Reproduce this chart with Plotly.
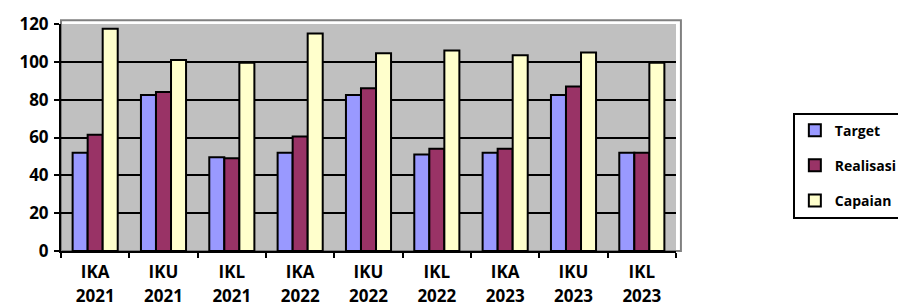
import plotly.graph_objects as go

indicators = ["IKA", "IKU", "IKL", "IKA", "IKU", "IKL", "IKA", "IKU", "IKL"]
years = ["2021", "2021", "2021", "2022", "2022", "2022", "2023", "2023", "2023"]
target = [52, 82.5, 49.5, 52, 82.5, 51, 52, 82.5, 52]
realisasi = [61.5, 84, 49, 60.5, 86, 54, 54, 87, 52]
capaian = [117.5, 101, 99.5, 115, 104.5, 106, 103.5, 105, 99.5]
y_ticks = [0, 20, 40, 60, 80, 100, 120]

series = [("Target", target, "#9999FF"),
          ("Realisasi", realisasi, "#993366"),
          ("Capaian", capaian, "#FFFFCC")]

pos = list(range(len(indicators)))
FONT = "Open Sans"

fig = go.Figure()
for name, vals, col in series:
    fig.add_trace(go.Bar(x=pos, y=vals, name=name, legendgroup=name,
                         marker=dict(color=col, line=dict(color="black", width=2))))

# invisible trace on second x axis for the year row of labels
fig.add_trace(go.Scatter(x=pos, y=[0] * len(pos), xaxis="x2", mode="markers",
                         marker=dict(opacity=0), showlegend=False, hoverinfo="skip"))

axis_font = dict(family=FONT, size=17, color="black", weight="bold")
fig.update_layout(
    width=906, height=308,
    margin=dict(l=53, r=238, t=16, b=65, autoexpand=False),
    paper_bgcolor="white", plot_bgcolor="#C0C0C0",
    barmode="group", bargap=0.34, bargroupgap=0,
    font=dict(family=FONT, color="black"),
    xaxis=dict(range=[-0.5, len(pos) - 0.5], tickvals=pos, ticktext=indicators,
               ticks="", showgrid=False, zeroline=False, automargin=False,
               showline=True, linecolor="black", linewidth=2,
               tickfont=axis_font, ticklabelstandoff=5,
               minor=dict(tickvals=[p - 0.5 for p in pos] + [pos[-1] + 0.5],
                          ticks="outside", ticklen=5, tickcolor="black", tickwidth=2)),
    xaxis2=dict(overlaying="x", matches="x", side="bottom", anchor="y",
                tickvals=pos, ticktext=years, ticks="", showgrid=False, automargin=False,
                zeroline=False, showline=False, tickfont=axis_font,
                ticklabelstandoff=33),
    yaxis=dict(range=[0, 120], tickvals=y_ticks, ticks="outside", ticklen=5,
               tickwidth=2, tickcolor="black", automargin=False,
               showgrid=True, gridcolor="black", gridwidth=2, zeroline=False,
               showline=True, linecolor="black", linewidth=2,
               tickfont=axis_font, ticklabelstandoff=2),
    legend=dict(x=1.19, y=0.61, xanchor="left", yanchor="top",
                bordercolor="black", borderwidth=2, bgcolor="white",
                font=dict(family=FONT, size=14, color="black", weight="bold"),
                traceorder="grouped", tracegroupgap=14, itemwidth=30),
    shapes=[dict(type="rect", xref="paper", yref="paper", x0=0, x1=1.008, y0=0, y1=1.017,
                 line=dict(color="#808080", width=2), layer="below")],
    showlegend=True,
)

fig.write_html("out.html")
